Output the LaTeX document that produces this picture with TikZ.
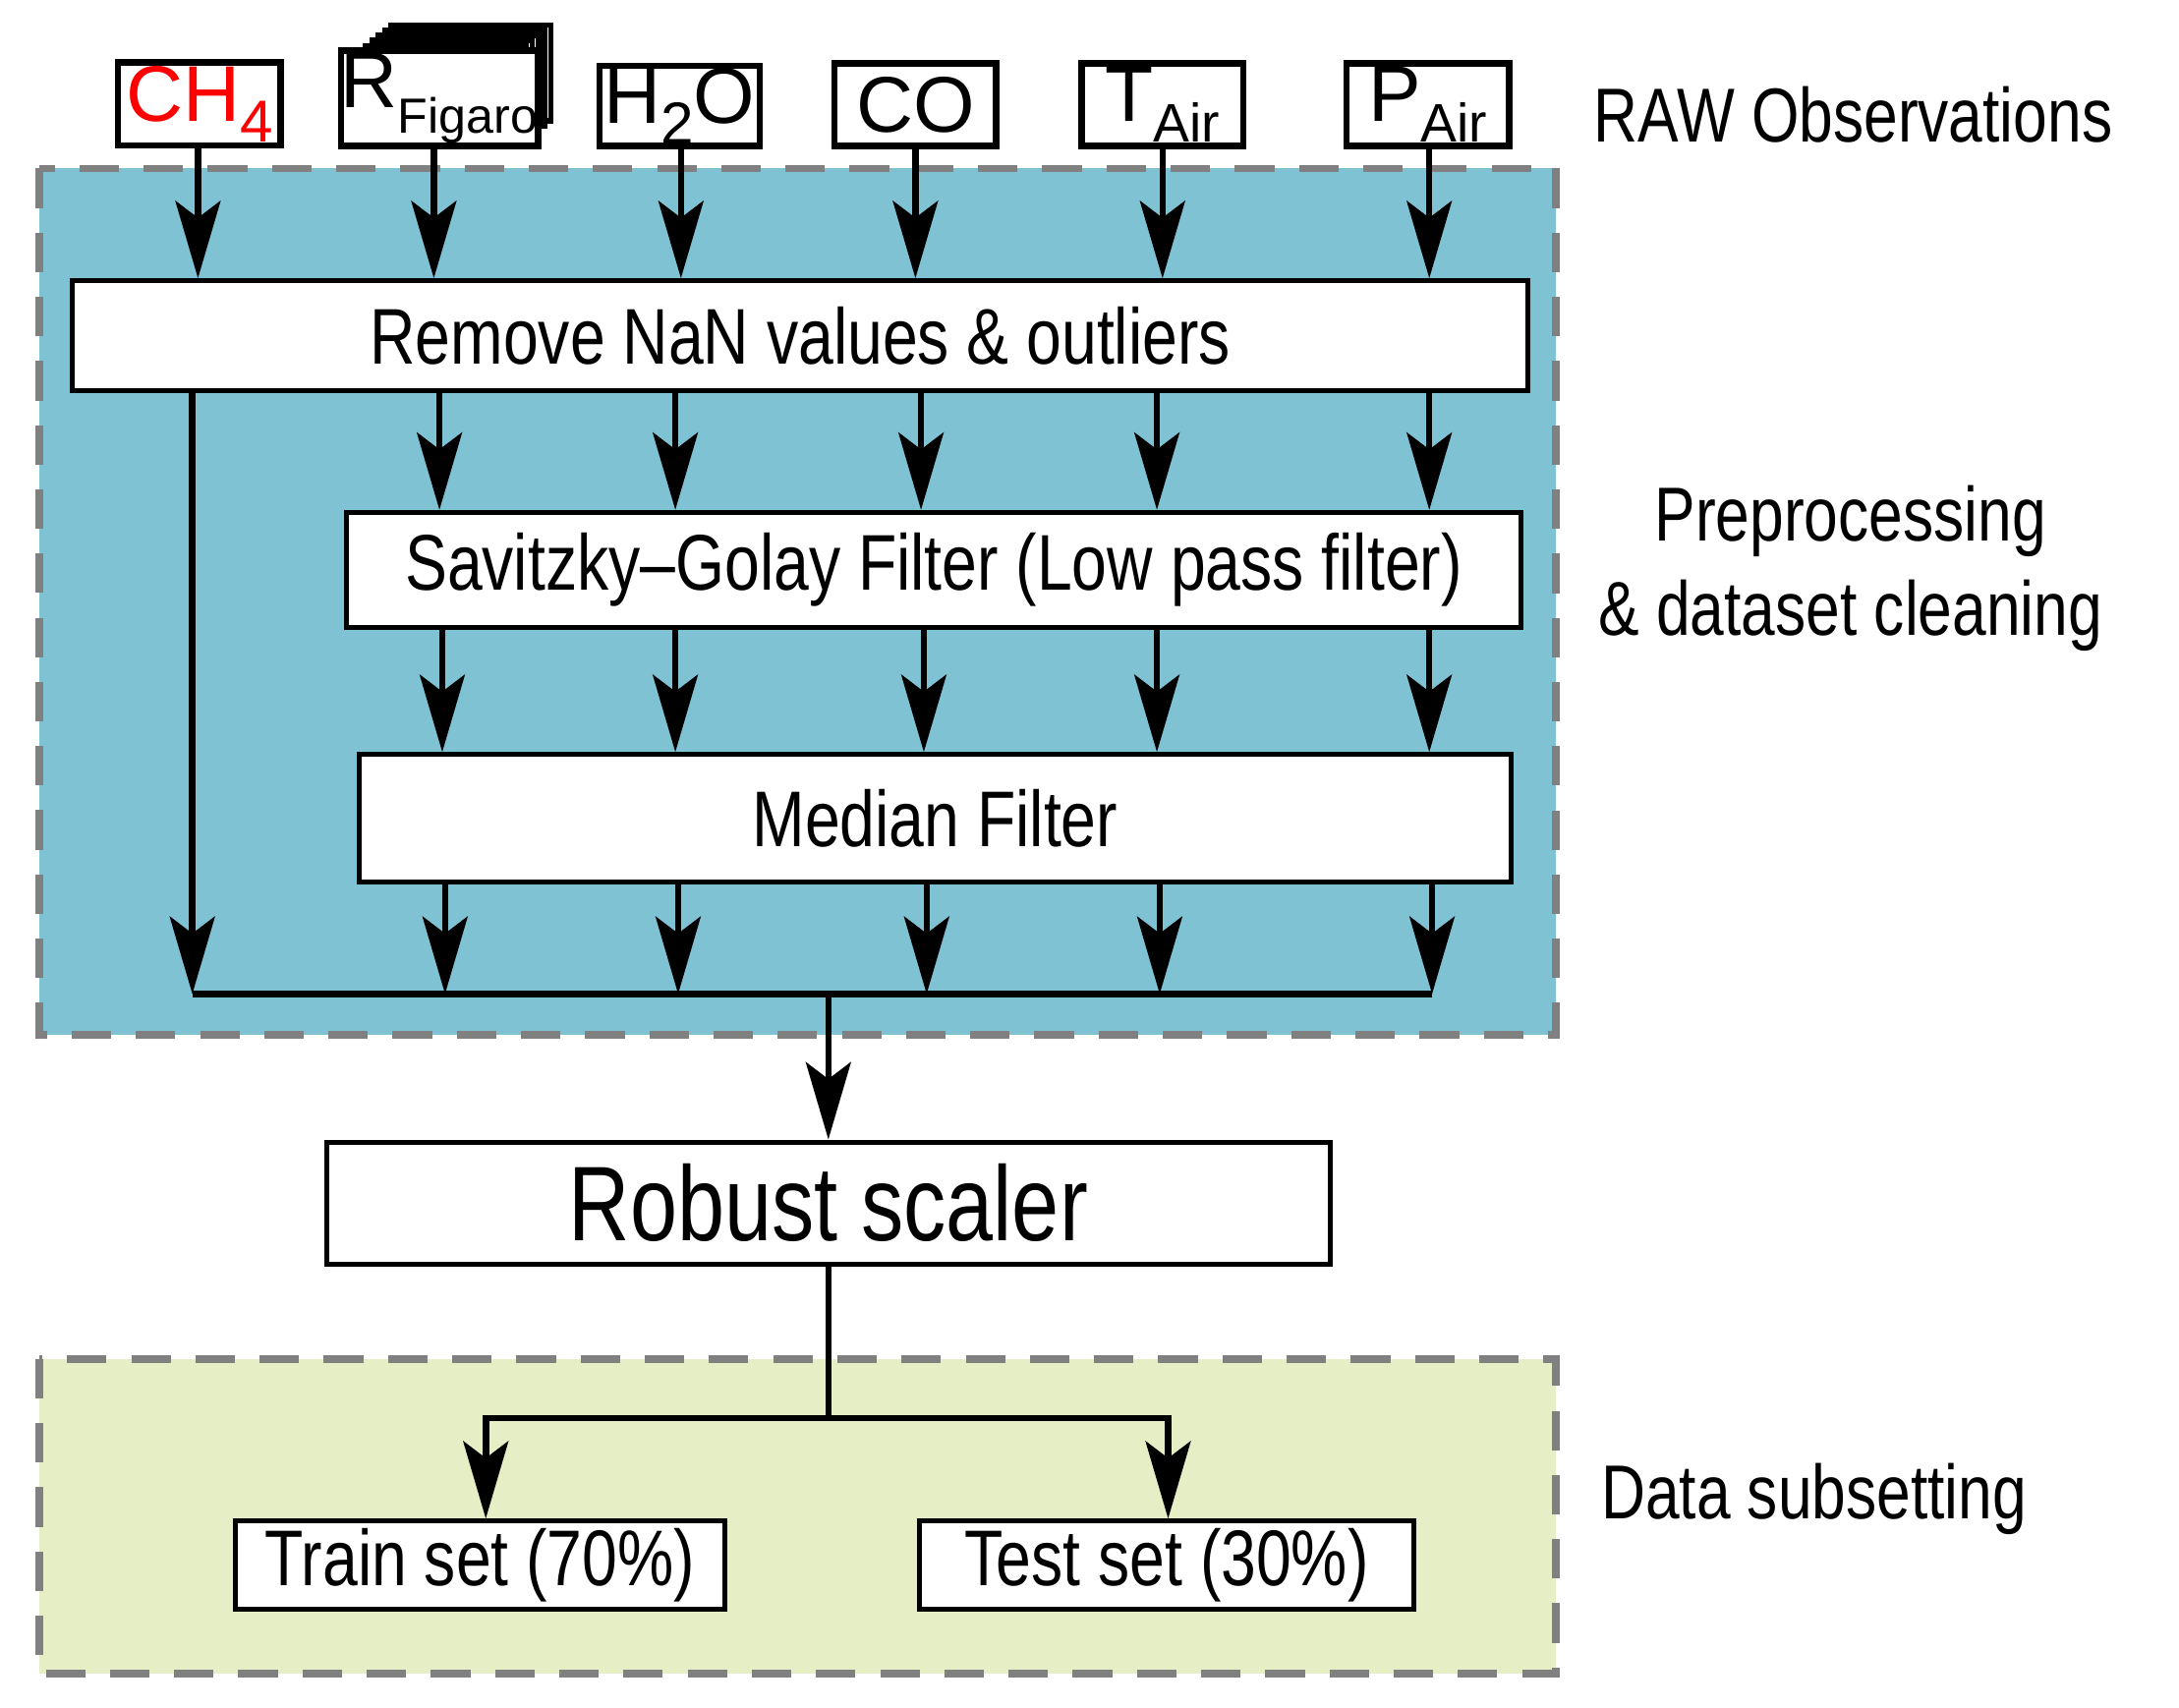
\documentclass[tikz,border=0pt]{standalone}
\usepackage{fontspec}
\setmainfont{Liberation Sans}[FakeStretch=0.8]
\newfontfamily\wide{Liberation Sans}
\usetikzlibrary{arrows.meta}
\definecolor{blueb}{HTML}{7FC2D4}
\definecolor{greenb}{HTML}{E5EEC4}
\begin{document}
\begin{tikzpicture}[x=0.01cm,y=-0.01cm,
  box/.style={draw,line width=1.3pt,fill=white,inner sep=0pt},
  obs/.style={box,font=\wide\fontsize{16}{18}\selectfont},
  ar/.style={line width=1.3pt,-{Stealth[length=0.55cm,width=0.32cm,inset=0.12cm]}},
  ln/.style={line width=1.3pt},
  lab/.style={font=\fontsize{15.5}{19}\selectfont,align=center}]
\useasboundingbox (0,0) rectangle (1552,1216);
\fill[blueb] (28,120) rectangle (1108,737);
\draw[gray,line width=1.5pt,dash pattern=on 8pt off 5pt] (28,120) rectangle (1108,737);
\fill[greenb] (28,968) rectangle (1108,1192);
\draw[gray,line width=1.5pt,dash pattern=on 8pt off 5pt] (28,968) rectangle (1108,1192);
% top observation boxes
\foreach \i in {5,4,...,1}{\draw[box,line width=1.1pt] (256+4.5*\i,36-3.6*\i) rectangle (370+4.5*\i,104-3.6*\i);}
\node[obs,minimum width=1.16cm,minimum height=0.59cm] (ch4) at (142,74) {\textcolor{red}{CH\raisebox{-0.5ex}{\fontsize{12}{12}\selectfont 4}}};
\node[obs,minimum width=1.14cm,minimum height=0.68cm] (rf) at (313,70) {R\raisebox{-0.6ex}{\fontsize{10}{12}\selectfont Figaro}};
\node[obs,minimum width=1.14cm,minimum height=0.57cm] (h2o) at (484,75.5) {H\raisebox{-0.5ex}{\fontsize{12}{12}\selectfont 2}O};
\node[obs,minimum width=1.15cm,minimum height=0.59cm] (co) at (652,74.5) {CO};
\node[obs,minimum width=1.15cm,minimum height=0.59cm] (ta) at (828,74.5) {T\raisebox{-0.5ex}{\fontsize{11}{12}\selectfont Air}};
\node[obs,minimum width=1.16cm,minimum height=0.59cm] (pa) at (1017,74.5) {P\raisebox{-0.5ex}{\fontsize{11}{12}\selectfont Air}};
% process boxes
\node[box,line width=1pt,minimum width=10.36cm,minimum height=0.78cm,font=\fontsize{16}{18}\selectfont] (rm) at (570,239) {Remove NaN values \& outliers};
\node[box,line width=1pt,minimum width=8.36cm,minimum height=0.82cm,font=\fontsize{16}{18}\selectfont] (sg) at (665,406) {Savitzky–Golay Filter (Low pass filter)};
\node[box,line width=1pt,minimum width=8.2cm,minimum height=0.91cm,font=\fontsize{16}{18}\selectfont] (md) at (666,583) {Median Filter};
\node[box,line width=1pt,minimum width=7.14cm,minimum height=0.87cm,font=\fontsize{21.5}{26}\selectfont] (rs) at (590,857) {Robust scaler};
\node[box,line width=1pt,minimum width=3.49cm,minimum height=0.63cm,font=\fontsize{16}{18}\selectfont] (tr) at (342,1115) {Train set (70\%)};
\node[box,line width=1pt,minimum width=3.52cm,minimum height=0.63cm,font=\fontsize{16}{18}\selectfont] (te) at (831,1115) {Test set (30\%)};
% arrows to Remove
\foreach \n/\x in {ch4/141,rf/309,h2o/485,co/652,ta/828,pa/1018}
  \draw[ar] (\n.south -| \x,0) -- (rm.north -| \x,0);
\foreach \x in {313,481,656,824,1018}{
  \draw[ar] (rm.south -| \x,0) -- (sg.north -| \x,0);}
\foreach \x in {315,481,658,824,1018}{
  \draw[ar] (sg.south -| \x,0) -- (md.north -| \x,0);}
\coordinate (jl) at (137,708);
\coordinate (jr) at (1020,708);
\draw[ar] (rm.south -| 137,0) -- (137,708);
\foreach \x in {317,483,660,826,1020}{
  \draw[ar] (md.south -| \x,0) -- (\x,708);}
\draw[ln] (jl) -- (jr);
\draw[ar] (590,708) -- (rs.north);
\coordinate (sp) at (590,1010);
\draw[ln] (rs.south) -- (sp);
\draw[ar] (sp) -| (tr.north -| 346,0);
\draw[ar] (sp) -| (te.north -| 832,0);
% side labels
\node[lab,anchor=west] (l1) at (1123,82) {RAW Observations};
\node[lab] (l2) at (1318,405) {Preprocessing\\\& dataset cleaning};
\node[lab,anchor=west] (l3) at (1128,1068) {Data subsetting};
\end{tikzpicture}
\end{document}
